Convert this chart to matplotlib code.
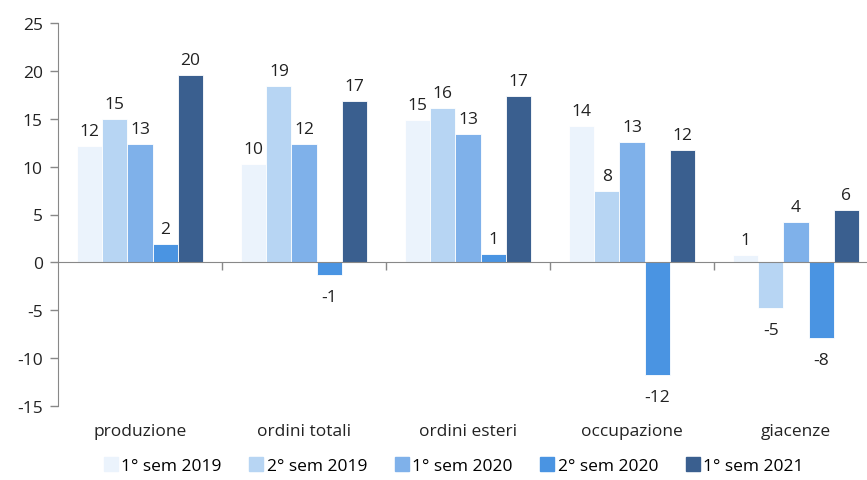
import numpy as np
import matplotlib
matplotlib.use("Agg")
import matplotlib.pyplot as plt
from matplotlib.lines import Line2D

plt.rcParams['font.family'] = ['Open Sans', 'DejaVu Sans']
plt.rcParams['axes.unicode_minus'] = False

# dati
categorie = ["produzione", "ordini totali", "ordini esteri", "occupazione", "giacenze"]
serie = ["1° sem 2019", "2° sem 2019", "1° sem 2020", "2° sem 2020", "1° sem 2021"]
sem1_2019 = [12.2, 10.3, 14.9, 14.2, 0.8]
sem2_2019 = [15.0, 18.4, 16.1, 7.5, -4.8]
sem1_2020 = [12.4, 12.4, 13.4, 12.6, 4.2]
sem2_2020 = [1.9, -1.3, 0.9, -11.8, -7.9]
sem1_2021 = [19.6, 16.9, 17.4, 11.7, 5.5]
etichette = [[12, 10, 15, 14, 1],
             [15, 19, 16, 8, -5],
             [13, 12, 13, 13, 4],
             [2, -1, 1, -12, -8],
             [20, 17, 17, 12, 6]]

valori = [sem1_2019, sem2_2019, sem1_2020, sem2_2020, sem1_2021]
colori = ["#EBF3FC", "#B7D5F3", "#7FB1EA", "#4A94E2", "#3A5F8F"]

fs = 12.5
fig = plt.figure(figsize=(8.67, 4.81), dpi=100)
ax = fig.add_axes([58/867, 1-407/481, (878-58)/867, (407-24)/481])

x = np.arange(len(categorie))
w = 0.153
for k, (vals, col) in enumerate(zip(valori, colori)):
    pos = x + (k - 2) * w
    ax.bar(pos, vals, width=w, color=col, edgecolor='white', linewidth=0.6, zorder=2)
    for px, v, lab in zip(pos, vals, etichette[k]):
        if v >= 0:
            ax.annotate(str(lab), (px, v), xytext=(0, 5), textcoords='offset points',
                        ha='center', va='bottom', fontsize=fs, color='#222222')
        else:
            ax.annotate(str(lab), (px, v), xytext=(0, -10), textcoords='offset points',
                        ha='center', va='top', fontsize=fs, color='#222222')

ax.set_xlim(-0.5, 4.5)
ax.set_ylim(-15, 25)
ax.set_yticks(np.arange(-15, 26, 5))
ax.tick_params(axis='y', labelsize=fs, colors='#222222', length=6, width=1,
               color='#888888', pad=5)
ax.spines['top'].set_visible(False)
ax.spines['right'].set_visible(False)
ax.spines['left'].set_color('#888888')
ax.spines['bottom'].set_color('#888888')
ax.spines['bottom'].set_position(('data', 0))
ax.spines['bottom'].set_zorder(3)
ax.set_xticks(x[:-1] + 0.5)
ax.set_xticklabels([])
ax.tick_params(axis='x', direction='out', length=6, width=1, color='#888888')

for i, c in enumerate(categorie):
    ax.text(i, -17.6, c, ha='center', va='center', fontsize=fs, color='#222222')

handles = [Line2D([], [], marker='s', linestyle='none', markersize=10,
                  markerfacecolor=c, markeredgecolor=c) for c in colori]
fig.legend(handles, serie, loc='center', bbox_to_anchor=(453/867, 1-467/481), ncol=5,
           frameon=False, fontsize=fs, handletextpad=0.1, columnspacing=1.5,
           handlelength=1.0)

fig.savefig("out.png", dpi=100)
